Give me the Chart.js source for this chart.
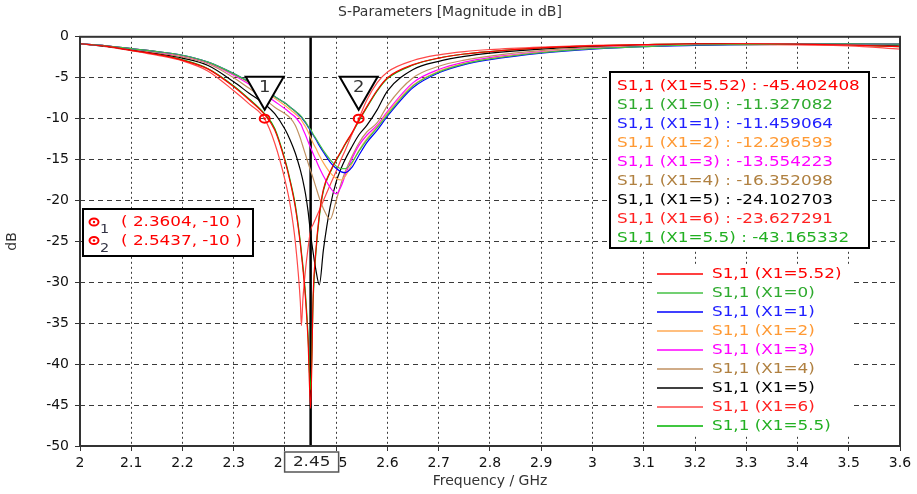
<!DOCTYPE html>
<html>
<head>
<meta charset="utf-8">
<title>S-Parameters</title>
<script src="https://cdn.jsdelivr.net/npm/chart.js@4.4.1/dist/chart.umd.min.js"></script>
<style>
  html, body { margin: 0; padding: 0; background: #fff; }
  canvas { display: block; }
</style>
</head>
<body>
<canvas id="sparams" width="917" height="494"></canvas>
<script>
// Frequency grid (GHz), denser around the resonances
const freq = [2.0, 2.05, 2.1, 2.15, 2.2, 2.25, 2.3, 2.33, 2.36, 2.38,
  2.4, 2.41, 2.42, 2.43, 2.432, 2.435, 2.44, 2.445, 2.45, 2.455,
  2.46, 2.467, 2.475, 2.488, 2.5, 2.51, 2.518, 2.53, 2.544, 2.56,
  2.58, 2.6, 2.65, 2.7, 2.75, 2.8, 2.9, 3.0, 3.1, 3.2,
  3.3, 3.4, 3.5, 3.6];

// S1,1 in dB, one list per X1 value
const s11_x552 = [-0.85, -1.15, -1.65, -2.15, -2.85, -3.95, -6.1, -7.7, -9.5, -11.4,
  -15.2, -17.7, -20.8, -25.4, -26.6, -28.4, -32.0, -37.2, -45.4, -31.5,
  -26.3, -21.7, -18.6, -16.5, -15.0, -13.9, -13.0, -11.8, -10.2, -8.5,
  -6.5, -5.0, -3.4, -2.6, -2.1, -1.8, -1.35, -1.1, -0.95, -0.85,
  -0.85, -0.9, -1.0, -1.2];
const s11_x0 = [-0.85, -1.1, -1.45, -1.8, -2.25, -3.1, -4.5, -5.5, -6.5, -7.3,
  -8.1, -8.6, -9.1, -9.6, -9.75, -10.0, -10.4, -10.9, -11.33, -11.9,
  -12.4, -13.1, -13.9, -15.0, -15.8, -16.1, -16.1, -15.4, -14.0, -12.6,
  -11.1, -9.5, -6.0, -4.3, -3.3, -2.7, -1.95, -1.45, -1.2, -1.0,
  -0.95, -0.9, -0.85, -0.9];
const s11_x1 = [-0.85, -1.1, -1.45, -1.8, -2.25, -3.1, -4.5, -5.5, -6.5, -7.3,
  -8.1, -8.6, -9.1, -9.7, -9.8, -10.1, -10.5, -11.0, -11.46, -12.0,
  -12.5, -13.3, -14.1, -15.3, -16.1, -16.5, -16.6, -16.0, -14.5, -12.9,
  -11.4, -9.7, -6.2, -4.4, -3.4, -2.8, -2.0, -1.5, -1.2, -1.05,
  -0.95, -0.9, -0.85, -0.9];
const s11_x2 = [-0.85, -1.1, -1.45, -1.8, -2.3, -3.15, -4.6, -5.6, -6.7, -7.5,
  -8.4, -8.9, -9.4, -10.0, -10.2, -10.5, -11.0, -11.6, -12.3, -13.0,
  -13.6, -14.5, -15.4, -16.6, -17.3, -17.5, -17.0, -15.6, -13.9, -12.4,
  -11.0, -9.3, -5.9, -4.2, -3.25, -2.65, -1.9, -1.45, -1.15, -1.0,
  -0.9, -0.85, -0.85, -0.9];
const s11_x3 = [-0.85, -1.1, -1.45, -1.85, -2.35, -3.2, -4.7, -5.8, -7.0, -7.9,
  -8.8, -9.3, -9.8, -10.6, -10.8, -11.3, -12.0, -12.8, -13.55, -14.3,
  -15.0, -16.0, -17.0, -18.4, -19.2, -18.2, -16.8, -15.0, -13.3, -12.0,
  -10.8, -9.1, -5.6, -4.0, -3.1, -2.55, -1.85, -1.4, -1.15, -1.0,
  -0.9, -0.85, -0.85, -0.9];
const s11_x4 = [-0.85, -1.1, -1.5, -1.95, -2.45, -3.3, -5.0, -6.3, -7.6, -8.6,
  -9.4, -9.9, -10.8, -12.4, -12.8, -13.4, -14.4, -15.4, -16.35, -17.3,
  -18.3, -19.7, -21.0, -22.3, -20.0, -17.8, -16.4, -14.7, -13.0, -11.6,
  -10.5, -8.4, -5.0, -3.6, -2.85, -2.35, -1.7, -1.3, -1.1, -0.95,
  -0.9, -0.85, -0.9, -1.0];
const s11_x5 = [-0.85, -1.15, -1.6, -2.05, -2.6, -3.5, -5.5, -6.9, -8.2, -9.4,
  -11.3, -12.6, -14.2, -16.3, -16.8, -17.6, -19.2, -21.3, -24.1, -26.4,
  -28.4, -30.3, -26.0, -20.8, -17.7, -16.0, -14.9, -13.5, -12.0, -10.8,
  -8.9, -6.6, -4.0, -3.0, -2.4, -2.0, -1.5, -1.2, -1.0, -0.9,
  -0.85, -0.85, -0.9, -1.1];
const s11_x6 = [-0.85, -1.2, -1.7, -2.25, -2.95, -4.2, -6.6, -8.2, -10.0, -13.0,
  -17.5, -20.5, -25.0, -32.5, -35.3, -32.0, -28.5, -25.8, -23.63, -22.9,
  -22.2, -21.2, -20.0, -18.1, -16.4, -14.9, -13.8, -12.0, -10.0, -7.7,
  -5.6, -4.3, -2.9, -2.2, -1.8, -1.55, -1.25, -1.05, -0.95, -0.9,
  -0.95, -1.0, -1.1, -1.5];
const s11_x55 = [-0.85, -1.15, -1.65, -2.15, -2.8, -3.9, -6.0, -7.6, -9.4, -11.2,
  -15.0, -17.5, -20.5, -25.1, -26.3, -28.0, -31.5, -36.5, -43.17, -32.0,
  -26.6, -22.0, -18.8, -16.6, -15.1, -14.0, -13.1, -11.9, -10.3, -8.6,
  -6.6, -5.1, -3.45, -2.6, -2.1, -1.8, -1.35, -1.1, -0.95, -0.85,
  -0.85, -0.9, -1.0, -1.2];

const seriesValues = [s11_x552, s11_x0, s11_x1, s11_x2, s11_x3, s11_x4, s11_x5, s11_x6, s11_x55];
const seriesLabels = ['S1,1 (X1=5.52)', 'S1,1 (X1=0)', 'S1,1 (X1=1)', 'S1,1 (X1=2)', 'S1,1 (X1=3)',
  'S1,1 (X1=4)', 'S1,1 (X1=5)', 'S1,1 (X1=6)', 'S1,1 (X1=5.5)'];
const lineColors = ['#ff0000', '#44c044', '#0000ff', '#ffaa55', '#ff00ff', '#c09060', '#000000', '#ff4848', '#00b400'];
const textColors = ['#ff0000', '#2eaa2e', '#2020ff', '#ff9933', '#ff00ff', '#b08040', '#000000', '#ff2020', '#22b022'];

// values read by the cursor at 2.45 GHz
const valueAt245 = [-45.402408, -11.327082, -11.459064, -12.296593, -13.554223, -16.352098, -24.102703, -23.627291, -43.165332];

const xTickValues = [2, 2.1, 2.2, 2.3, 2.4, 2.5, 2.6, 2.7, 2.8, 2.9, 3, 3.1, 3.2, 3.3, 3.4, 3.5, 3.6];
const yTickValues = [0, -5, -10, -15, -20, -25, -30, -35, -40, -45, -50];

const markerFreq = [2.3604, 2.5437];
const markerLevel = -10;
const cursorFreq = 2.45;

const FONT = '"DejaVu Sans", Verdana, sans-serif';
const SX = 1.2; // reference text is a little wider than DejaVu

function wideText(ctx, txt, x, y, color, size, align) {
  ctx.save();
  ctx.translate(x, y);
  ctx.scale(SX, 1);
  ctx.font = size + 'px ' + FONT;
  ctx.fillStyle = color;
  ctx.textAlign = align || 'left';
  ctx.textBaseline = 'middle';
  ctx.fillText(txt, 0, 0);
  ctx.restore();
}

function markerRing(ctx, x, y, r) {
  ctx.save();
  ctx.strokeStyle = '#ff0000';
  ctx.lineWidth = 2;
  ctx.beginPath();
  ctx.ellipse(x, y, r, r * 0.8, 0, 0, Math.PI * 2);
  ctx.stroke();
  ctx.fillStyle = '#ff0000';
  ctx.beginPath();
  ctx.arc(x, y, 1.2, 0, Math.PI * 2);
  ctx.fill();
  ctx.restore();
}

function box(ctx, x, y, w, h, lw, stroke) {
  ctx.save();
  ctx.fillStyle = '#fff';
  ctx.fillRect(x, y, w, h);
  if (lw) {
    ctx.strokeStyle = stroke || '#000';
    ctx.lineWidth = lw;
    ctx.strokeRect(x, y, w, h);
  }
  ctx.restore();
}

const overlay = {
  id: 'overlay',
  beforeDatasetsDraw(chart) {
    const { ctx, chartArea: a, scales: { x } } = chart;
    const cx = x.getPixelForValue(cursorFreq);
    ctx.save();
    ctx.strokeStyle = '#000';
    ctx.lineWidth = 2.5;
    ctx.beginPath();
    ctx.moveTo(cx, a.top);
    ctx.lineTo(cx, a.bottom);
    ctx.stroke();
    ctx.restore();
  },
  afterDraw(chart) {
    const { ctx, chartArea: a, scales: { x, y } } = chart;

    // plot frame
    ctx.save();
    ctx.strokeStyle = '#333';
    ctx.lineWidth = 2;
    ctx.strokeRect(a.left, a.top, a.right - a.left, a.bottom - a.top);
    ctx.restore();

    // markers with triangles
    markerFreq.forEach((f, i) => {
      const px = x.getPixelForValue(f);
      const py = y.getPixelForValue(markerLevel);
      const tip = py - 9, topY = py - 42;
      ctx.save();
      ctx.beginPath();
      ctx.moveTo(px - 19, topY);
      ctx.lineTo(px + 19, topY);
      ctx.lineTo(px, tip);
      ctx.closePath();
      ctx.fillStyle = '#fff';
      ctx.fill();
      ctx.strokeStyle = '#000';
      ctx.lineWidth = 2;
      ctx.stroke();
      ctx.restore();
      wideText(ctx, String(i + 1), px, topY + 11, '#333', 15, 'center');
      markerRing(ctx, px, py, 5);
    });

    // marker readout box
    box(ctx, 83, 209, 170, 47, 2);
    markerFreq.forEach((f, i) => {
      const ry = 222 + i * 18.5;
      markerRing(ctx, 94, ry, 4.5);
      wideText(ctx, String(i + 1), 100, ry + 8, '#334', 12, 'left');
      wideText(ctx, '( ' + f.toFixed(4) + ', ' + markerLevel + ' )', 121, ry + 0.5, '#ff0000', 14, 'left');
    });

    // cursor values box
    box(ctx, 610, 72, 259, 176, 2);
    seriesLabels.forEach((lab, i) => {
      wideText(ctx, lab + ' : ' + valueAt245[i].toFixed(6), 617, 86 + i * 19, textColors[i], 14, 'left');
    });

    // legend
    box(ctx, 652, 264, 200, 172, 0);
    seriesLabels.forEach((lab, i) => {
      const ly = 274 + i * 19;
      ctx.save();
      ctx.strokeStyle = lineColors[i];
      ctx.lineWidth = 1.5;
      ctx.beginPath();
      ctx.moveTo(657, ly);
      ctx.lineTo(703, ly);
      ctx.stroke();
      ctx.restore();
      wideText(ctx, lab, 712, ly, textColors[i], 14, 'left');
    });

    // cursor label on the x axis
    const cx = x.getPixelForValue(cursorFreq);
    box(ctx, cx - 26, 452, 54, 20, 1.5, '#555');
    wideText(ctx, String(cursorFreq), cx + 1, 462.5, '#222', 14, 'center');
  }
};

const datasets = seriesValues.map((vals, i) => ({
  label: seriesLabels[i],
  data: freq.map((f, j) => ({ x: f, y: vals[j] })),
  borderColor: lineColors[i],
  borderWidth: 1.2,
  pointRadius: 0,
  fill: false,
  cubicInterpolationMode: 'monotone'
}));

const ctx = document.getElementById('sparams').getContext('2d');
new Chart(ctx, {
  type: 'line',
  data: { datasets },
  options: {
    responsive: false,
    animation: false,
    devicePixelRatio: 1,
    layout: { padding: { left: 0, right: 17, top: 0, bottom: 0 } },
    plugins: {
      legend: { display: false },
      tooltip: { enabled: false },
      title: {
        display: true,
        text: 'S-Parameters [Magnitude in dB]',
        color: '#333',
        font: { family: FONT, size: 14, weight: 'normal' },
        padding: { top: 4, bottom: 16 }
      }
    },
    scales: {
      x: {
        type: 'linear',
        min: 2,
        max: 3.6,
        afterBuildTicks: s => { s.ticks = xTickValues.map(v => ({ value: v })); },
        afterFit: s => { s.height = 48; },
        ticks: {
          autoSkip: false,
          maxRotation: 0,
          padding: 4,
          color: '#111',
          font: { family: FONT, size: 14 },
          callback: v => String(Number(v.toFixed(1)))
        },
        grid: { color: '#3a3a3a', tickLength: 5, tickColor: '#333' },
        border: { display: false, dash: [2, 3] },
        title: {
          display: true,
          text: 'Frequency / GHz',
          color: '#333',
          font: { family: FONT, size: 14 },
          padding: { top: 0, bottom: 4 }
        }
      },
      y: {
        min: -50,
        max: 0,
        afterBuildTicks: s => { s.ticks = yTickValues.map(v => ({ value: v })); },
        afterFit: s => { s.width = 80; },
        ticks: {
          padding: 6,
          color: '#111',
          font: { family: FONT, size: 14 }
        },
        grid: { color: '#3a3a3a', tickLength: 5, tickColor: '#333' },
        border: { display: false, dash: [5, 4] },
        title: {
          display: true,
          text: 'dB',
          color: '#333',
          font: { family: FONT, size: 14 },
          padding: { top: 4, bottom: 0 }
        }
      }
    }
  },
  plugins: [overlay]
});
</script>
</body>
</html>
